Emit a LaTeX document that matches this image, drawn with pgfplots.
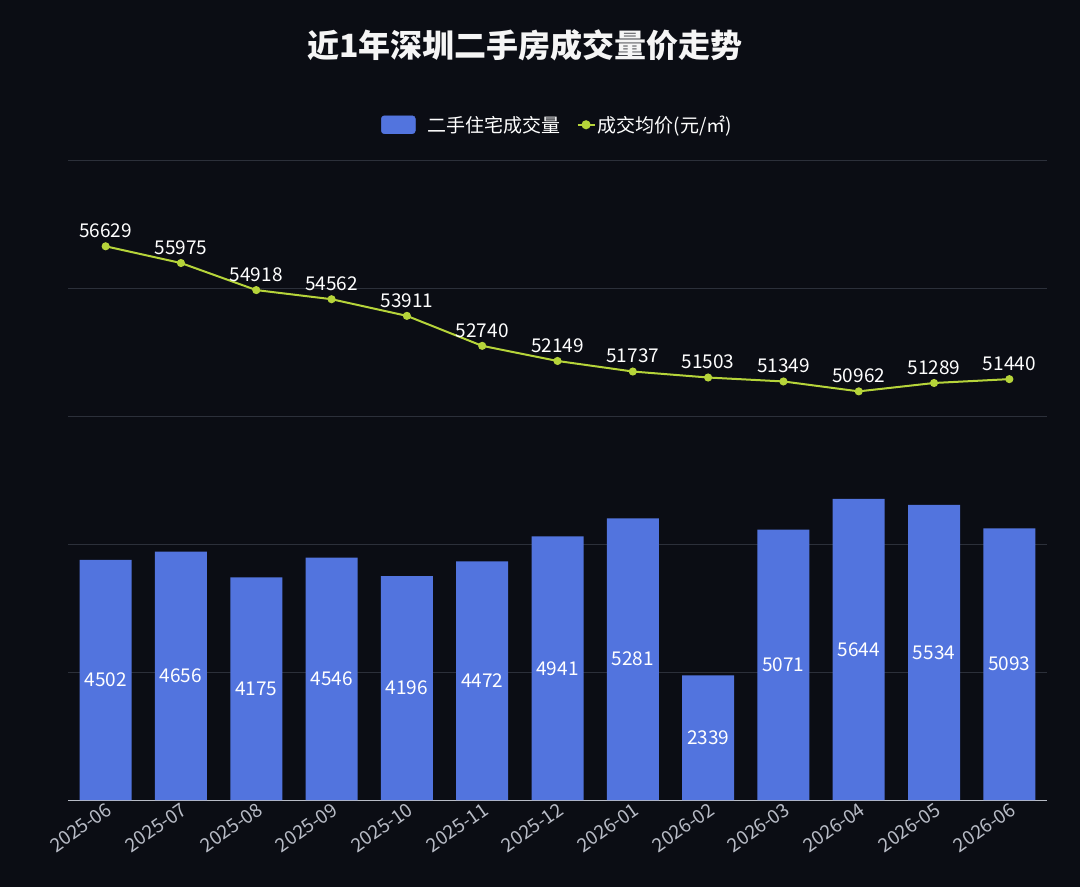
\documentclass[border=0pt]{standalone}
\usepackage{pgfplots}
\pgfplotsset{compat=1.18}
\usepackage{fontspec}
\setmainfont{Noto Sans CJK SC}
\definecolor{bg}{HTML}{0B0D14}
\definecolor{barc}{HTML}{5274DE}
\definecolor{linec}{HTML}{B6D43A}
\definecolor{gridc}{HTML}{2C303A}
\definecolor{tickc}{HTML}{B8BCC6}
\pgfplotsset{/pgf/number format/assume math mode=true}
\begin{document}
\begin{tikzpicture}[x=1pt,y=1pt]
\fill[bg] (0,0) rectangle (1080,887);
\node[text=white!92!gray,font=\fontsize{32}{38}\selectfont\bfseries] at (525,842) {近1年深圳二手房成交量价走势};
\begin{axis}[at={(68pt,87pt)},anchor=south west,scale only axis,width=979pt,height=640pt,
  xmin=-0.5,xmax=12.5,ymin=0,ymax=12000,scaled y ticks=false,
  xtick={0,...,12},
  xticklabels={2025-06,2025-07,2025-08,2025-09,2025-10,2025-11,2025-12,2026-01,2026-02,2026-03,2026-04,2026-05,2026-06},
  xticklabel style={rotate=35,anchor=north east,text=tickc,font=\fontsize{19}{22}\selectfont,inner sep=1pt},
  ytick={0,2400,4800,7200,9600,12000},yticklabels={},
  ymajorgrids,grid style={gridc,line width=0.8pt},
  axis lines*=left, y axis line style={draw=none},
  x axis line style={draw=tickc,line width=1pt,-},
  major tick length=0pt,
  legend columns=2,
  legend style={at={(0.5,1)},anchor=south,yshift=22pt,fill=none,draw=none,text=white,font=\fontsize{19}{22}\selectfont,/tikz/every even column/.append style={column sep=14pt}},
]
\addplot[fill=barc,draw=none,forget plot,ybar,bar width=52pt,bar shift=0pt] coordinates {(0,4502)(1,4656)(2,4175)(3,4546)(4,4196)(5,4472)(6,4941)(7,5281)(8,2339)(9,5071)(10,5644)(11,5534)(12,5093)};
\addlegendimage{legend image code/.code={\fill[barc,rounded corners=3pt] (-4pt,-9pt) rectangle (30pt,9pt);}}
\addlegendentry{\hspace{10pt}二手住宅成交量}
\addlegendimage{linec,line width=2pt,mark=*,mark size=3.5pt}
\addlegendentry{成交均价(元/㎡)}
\addplot[draw=none,mark=none,nodes near coords,point meta=explicit symbolic,
  every node near coord/.append style={text=white,font=\fontsize{19}{22}\selectfont,anchor=center}]
  table[meta=m]{
x y m
0 2251 4502
1 2328 4656
2 2087.5 4175
3 2273 4546
4 2098 4196
5 2236 4472
6 2470.5 4941
7 2640.5 5281
8 1169.5 2339
9 2535.5 5071
10 2822 5644
11 2767 5534
12 2546.5 5093
};
\end{axis}
\begin{axis}[at={(68pt,87pt)},anchor=south west,scale only axis,width=979pt,height=640pt,
  xmin=-0.5,xmax=12.5,ymin=35000,ymax=60000,hide axis,clip=false]
\addplot[linec,line width=2pt,mark=*,mark size=3pt,
  nodes near coords,point meta=explicit symbolic,
  every node near coord/.append style={text=white,font=\fontsize{19}{22}\selectfont,anchor=south,yshift=4pt}]
  table[meta=m]{
x y m
0 56629 56629
1 55975 55975
2 54918 54918
3 54562 54562
4 53911 53911
5 52740 52740
6 52149 52149
7 51737 51737
8 51503 51503
9 51349 51349
10 50962 50962
11 51289 51289
12 51440 51440
};
\end{axis}
\end{tikzpicture}
\end{document}
